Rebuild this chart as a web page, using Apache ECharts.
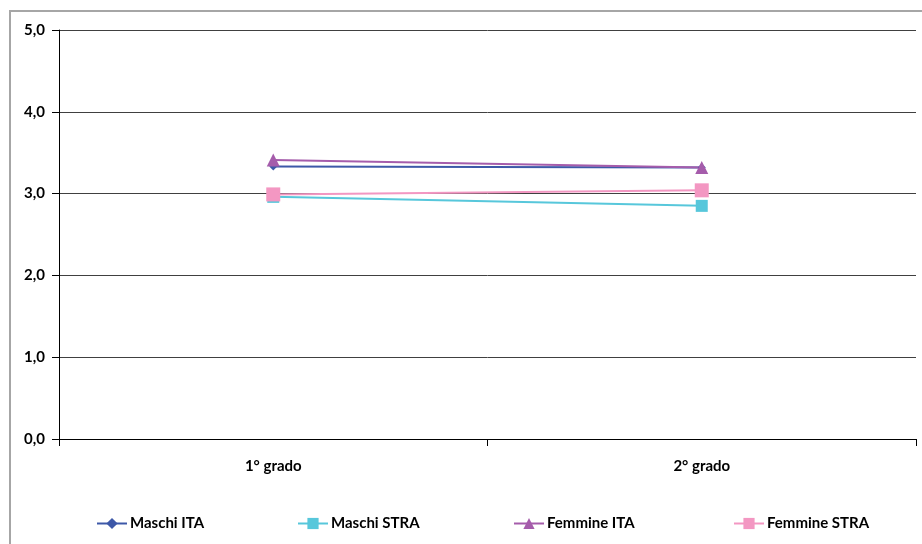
<!DOCTYPE html>
<html><head><meta charset="utf-8">
<script src="https://cdn.jsdelivr.net/npm/echarts@6/dist/echarts.min.js"></script>
<style>html,body{margin:0;padding:0;background:#fff}#c{width:922px;height:544px}</style>
</head><body><div id="c"></div>
<script>
const categories = ['1° grado', '2° grado'];
const maschiITA = [3.33, 3.32];
const maschiSTRA = [2.96, 2.85];
const femmineITA = [3.41, 3.32];
const femmineSTRA = [2.99, 3.04];
const yTicks = [0, 1, 2, 3, 4, 5];

const font = 'Lato, "Open Sans", sans-serif';
const fs = 15;
const chart = echarts.init(document.getElementById('c'), null, {renderer: 'canvas'});
const seriesDefs = [
  {name: 'Maschi ITA', data: maschiITA, color: '#3D58A8', symbol: 'diamond', size: 8},
  {name: 'Maschi STRA', data: maschiSTRA, color: '#57C7DB', symbol: 'rect', size: 12},
  {name: 'Femmine ITA', data: femmineITA, color: '#A55CAB', symbol: 'triangle', size: 13},
  {name: 'Femmine STRA', data: femmineSTRA, color: '#F397C2', symbol: 'rect', size: 14}
];
const legendLefts = [96, 297, 513, 733];
chart.setOption({
  animation: false,
  graphic: [{type: 'rect', shape: {x: 10, y: 11, width: 1000, height: 700}, style: {fill: 'none', stroke: '#a6a6a6', lineWidth: 2}, silent: true}],
  grid: {left: 59, right: 6, top: 30, bottom: 105},
  xAxis: {
    type: 'category', data: categories, boundaryGap: true,
    axisLine: {lineStyle: {color: '#000', width: 1}},
    axisTick: {show: true, length: 7, lineStyle: {color: '#000'}},
    axisLabel: {margin: 20, color: '#000', fontFamily: font, fontWeight: 'bold', fontSize: fs}
  },
  yAxis: {
    type: 'value', min: yTicks[0], max: yTicks[yTicks.length - 1], interval: 1,
    axisLine: {show: true, lineStyle: {color: '#000'}},
    axisTick: {show: true, length: 7, lineStyle: {color: '#000'}},
    splitLine: {lineStyle: {color: '#404040', width: 1}},
    axisLabel: {margin: 14, color: '#000', fontFamily: font, fontWeight: 'bold', fontSize: fs,
      formatter: v => v.toFixed(1).replace('.', ',')}
  },
  legend: seriesDefs.map((s, i) => ({
    data: [s.name], left: legendLefts[i], top: 516, itemWidth: 30, itemHeight: 14, itemGap: 4, padding: 0,
    textStyle: {color: '#000', fontFamily: font, fontWeight: 'bold', fontSize: fs, padding: [0, 0, 0, -2]}
  })),
  series: seriesDefs.map(s => ({
    name: s.name, type: 'line', data: s.data, symbol: s.symbol, symbolSize: s.size,
    lineStyle: {color: s.color, width: 2}, itemStyle: {color: s.color}, color: s.color
  }))
});
</script></body></html>
